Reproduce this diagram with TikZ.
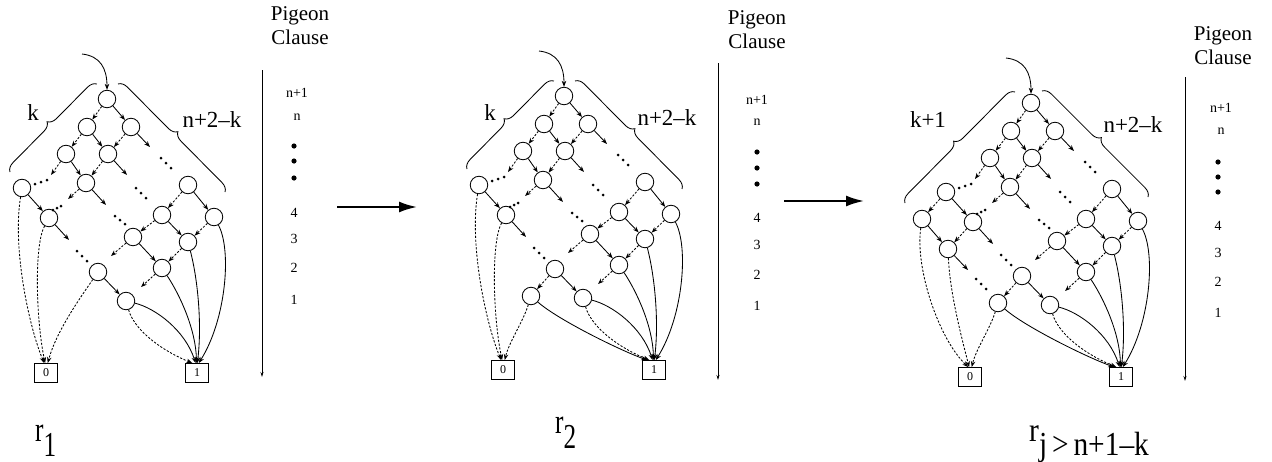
\documentclass[tikz,border=0pt]{standalone}
\usepackage{fontspec}
\setmainfont{Liberation Serif}
\usetikzlibrary{arrows.meta,calc,decorations.pathreplacing}
\tikzset{
  bn/.style={circle,draw,line width=0.85pt,minimum size=17.5pt,inner sep=0pt},
  term/.style={draw,line width=0.85pt,minimum width=23pt,minimum height=19pt,inner sep=0pt,font=\fontsize{12}{12}\selectfont},
  hi/.style={line width=0.85pt,-{Stealth[length=6pt,width=4.5pt]}},
  lo/.style={line width=0.85pt,dash pattern=on 2.2pt off 1.6pt,-{Stealth[length=6pt,width=4.5pt]}},
  brc/.style={line width=0.85pt,decorate,decoration={brace,amplitude=9pt}},
  big/.style={line width=2pt,-{Latex[length=18pt,width=11pt]}},
  lbl/.style={font=\fontsize{23}{23}\selectfont},
  pig/.style={font=\fontsize{21}{24}\selectfont,align=center},
  num/.style={font=\fontsize{14}{14}\selectfont},
  axis/.style={line width=0.9pt,-{Stealth[length=5pt,width=3pt]}},
}
\newcommand\tdots[3]{\fill (#1) circle[radius=1.5pt] (#2) circle[radius=1.5pt] (#3) circle[radius=1.5pt];}
\newcommand\bddcommon[1]{%
  \node[bn] (#1A) at (107,99) {};
  \node[bn] (#1B) at (87,127) {};
  \node[bn] (#1C) at (131,127) {};
  \node[bn] (#1D) at (66,154) {};
  \node[bn] (#1E) at (108,154) {};
  \node[bn] (#1F) at (22,188) {};
  \node[bn] (#1G) at (86,183) {};
  \node[bn] (#1H) at (49,218) {};
  \node[bn] (#1I) at (188,185) {};
  \node[bn] (#1J) at (162,215) {};
  \node[bn] (#1K) at (214,217) {};
  \node[bn] (#1L) at (133,237) {};
  \node[bn] (#1M) at (188,242) {};
  \node[bn] (#1N) at (98,272) {};
  \node[bn] (#1O) at (162,268) {};
  \node[bn] (#1P) at (126,301) {};
  \node[term] (#1Z) at (46,373) {0};
  \node[term] (#1U) at (197,373) {1};
  \coordinate (#1s) at (82,54);
  \coordinate (#1cC) at (150,147);
  \coordinate (#1cE) at (127,175);
  \coordinate (#1cG) at (106,205);
  \coordinate (#1cH) at (69,240);
  \coordinate (#1dD) at (51,175);
  \coordinate (#1dG) at (68,199);
  \coordinate (#1dL) at (111,256);
  \coordinate (#1dO) at (141,287);
  \draw[hi] (#1s) .. controls (100,56) and (107,68) .. (#1A);
  \draw[lo] (#1A) -- (#1B);
  \draw[hi] (#1A) -- (#1C);
  \draw[lo] (#1B) -- (#1D);
  \draw[hi] (#1B) -- (#1E);
  \draw[lo] (#1C) -- (#1E);
  \draw[hi] (#1C) -- (#1cC);
  \draw[lo] (#1D) -- (#1dD);
  \draw[hi] (#1D) -- (#1G);
  \draw[lo] (#1E) -- (#1G);
  \draw[hi] (#1E) -- (#1cE);
  \draw[lo] (#1G) -- (#1dG);
  \draw[hi] (#1G) -- (#1cG);
  \draw[hi] (#1F) -- (#1H);
  \draw[hi] (#1H) -- (#1cH);
  \draw[lo] (#1I) -- (#1J);
  \draw[hi] (#1I) -- (#1K);
  \draw[lo] (#1J) -- (#1L);
  \draw[hi] (#1J) -- (#1M);
  \draw[lo] (#1K) -- (#1M);
  \draw[lo] (#1L) -- (#1dL);
  \draw[hi] (#1L) -- (#1O);
  \draw[lo] (#1M) -- (#1O);
  \draw[hi] (#1N) -- (#1P);
  \draw[lo] (#1O) -- (#1dO);
  \tdots{161,158}{166,163}{171,168}
  \tdots{136,188}{141,193}{146,198}
  \tdots{115,216}{120,220}{125,224}
  \tdots{77,251}{82,256}{87,261}
  \tdots{35,184}{41,182}{47,180}
  \tdots{53,210}{57,208}{61,206}
  \draw[hi] (#1K) .. controls (232,250) and (226,320) .. (#1U.80);
  \draw[hi] (#1M) .. controls (198,280) and (202,325) .. (#1U.88);
  \draw[hi] (#1O) .. controls (180,295) and (196,330) .. (#1U.93);
  \draw[hi] (#1P) .. controls (155,308) and (185,330) .. (#1U.98);
  \draw[lo] (#1P) .. controls (135,332) and (165,352) .. (#1U.115);
}
\begin{document}
\begin{tikzpicture}[x=1pt,y=-1pt]
\useasboundingbox (0,0) rectangle (1272,461);
% ---------------- diagram 1
\begin{scope}
  \bddcommon{a}
  \draw[lo] (aF) .. controls (12,250) and (30,330) .. (aZ.100);
  \draw[lo] (aH) .. controls (34,245) and (36,320) .. (aZ.95);
  \draw[lo] (aN) .. controls (80,298) and (56,332) .. (aZ.80);
  \draw[brc] (10,172) -- (97,84);
  \draw[brc] (118,84) -- (225,192);
  \node[lbl] (ak) at (33,113) {k};
  \node[lbl] (an) at (212,120) {n+2–k};
\end{scope}
\coordinate (ax1t) at (262,70);
\coordinate (ax1b) at (262,377);
\draw[axis] (ax1t) -- (ax1b);
\node[pig] (pg1) at (300,26) {Pigeon\\Clause};
\node[num] (p1a) at (297,93) {n+1};
\node[num] (p1b) at (297,117) {n};
\fill (294,146) circle[radius=2.6pt] (294,161) circle[radius=2.6pt] (294,178) circle[radius=2.6pt];
\node[num] (p1c) at (294,213) {4};
\node[num] (p1d) at (294,239) {3};
\node[num] (p1e) at (294,268) {2};
\node[num] (p1f) at (294,300) {1};
\coordinate (ar1s) at (337,207);
\coordinate (ar1e) at (417,207);
\draw[big] (ar1s) -- (ar1e);
% ---------------- diagram 2
\begin{scope}[shift={(457,-3)}]
  \bddcommon{b}
  \node[bn] (bQ) at (74,299) {};
  \draw[lo] (bF) .. controls (12,250) and (30,330) .. (bZ.100);
  \draw[lo] (bH) .. controls (34,245) and (36,320) .. (bZ.95);
  \draw[lo] (bN) -- (bQ);
  \draw[lo] (bQ) .. controls (66,325) and (52,345) .. (bZ.80);
  \draw[hi] (bQ) .. controls (100,322) and (160,352) .. (bU.125);
  \draw[brc] (10,172) -- (97,84);
  \draw[brc] (118,84) -- (225,192);
  \node[lbl] (bk) at (33,116) {k};
  \node[lbl] (bn) at (210,121) {n+2–k};
\end{scope}
\coordinate (ax2t) at (718,63);
\coordinate (ax2b) at (718,380);
\draw[axis] (ax2t) -- (ax2b);
\node[pig] (pg2) at (757,30) {Pigeon\\Clause};
\node[num] (p2a) at (757,100) {n+1};
\node[num] (p2b) at (757,122) {n};
\fill (757,152) circle[radius=2.6pt] (757,168) circle[radius=2.6pt] (757,184) circle[radius=2.6pt];
\node[num] (p2c) at (757,218) {4};
\node[num] (p2d) at (757,245) {3};
\node[num] (p2e) at (757,275) {2};
\node[num] (p2f) at (757,306) {1};
\coordinate (ar2s) at (784,201);
\coordinate (ar2e) at (864,201);
\draw[big] (ar2s) -- (ar2e);
% ---------------- diagram 3
\begin{scope}[shift={(924,4)}]
  \bddcommon{c}
  \node[bn] (cF2) at (-2,215) {};
  \node[bn] (cH2) at (24,245) {};
  \node[bn] (cQ) at (74,299) {};
  \coordinate (ccH2) at (44,266);
  \draw[lo] (cF) -- (cF2);
  \draw[lo] (cH) -- (cH2);
  \draw[hi] (cF2) -- (cH2);
  \draw[hi] (cH2) -- (ccH2);
  \tdots{52,275}{57,280}{62,285}
  \draw[lo] (cN) -- (cQ);
  \draw[lo] (cF2) .. controls (-9,265) and (15,335) .. (cZ.100);
  \draw[lo] (cH2) .. controls (26,290) and (38,335) .. (cZ.95);
  \draw[lo] (cQ) .. controls (66,325) and (52,345) .. (cZ.80);
  \draw[hi] (cQ) .. controls (100,322) and (160,352) .. (cU.125);
  \draw[brc] (-19,199) -- (91,88);
  \draw[brc] (118,87) -- (224,193);
  \node[lbl] (ck) at (4,116) {k+1};
  \node[lbl] (cn) at (209,121) {n+2–k};
\end{scope}
\coordinate (ax3t) at (1185,77);
\coordinate (ax3b) at (1185,381);
\draw[axis] (ax3t) -- (ax3b);
\node[pig] (pg3) at (1223,46) {Pigeon\\Clause};
\node[num] (p3a) at (1221,108) {n+1};
\node[num] (p3b) at (1221,131) {n};
\fill (1218,162) circle[radius=2.6pt] (1218,177) circle[radius=2.6pt] (1218,192) circle[radius=2.6pt];
\node[num] (p3c) at (1218,226) {4};
\node[num] (p3d) at (1218,253) {3};
\node[num] (p3e) at (1218,282) {2};
\node[num] (p3f) at (1218,313) {1};
% ---------------- bottom labels
\node[anchor=base west,inner sep=0pt] (r1) at (35,441) {\scalebox{0.9}[1.25]{\fontsize{28}{28}\selectfont r\raisebox{-12pt}{1}}};
\node[anchor=base west,inner sep=0pt] (r2) at (555,433) {\scalebox{0.9}[1.25]{\fontsize{28}{28}\selectfont r\raisebox{-12pt}{2}}};
\node[anchor=base west,inner sep=0pt] (r3) at (1029,441) {\scalebox{1.05}[1.2]{\fontsize{28}{28}\selectfont r\raisebox{-12pt}{j\,>\,n+1–k}}};
\end{tikzpicture}
\end{document}
